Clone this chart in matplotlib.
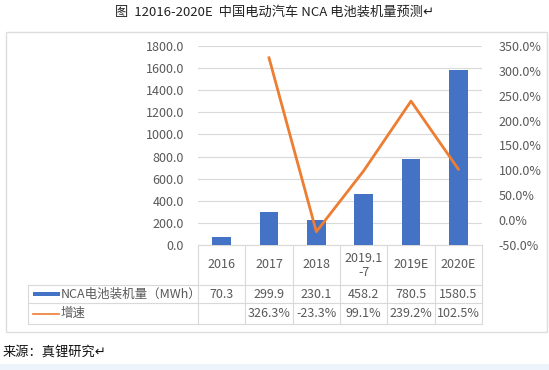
import numpy as np
import matplotlib
matplotlib.use("Agg")
import matplotlib.pyplot as plt
import matplotlib.transforms as mtransforms
from matplotlib.patches import Rectangle
from matplotlib.lines import Line2D

plt.rcParams['font.family'] = ['Noto Sans CJK SC', 'DejaVu Sans']

# data
categories = ['2016', '2017', '2018', '2019.1\n-7', '2019E', '2020E']
capacity = [70.3, 299.9, 230.1, 458.2, 780.5, 1580.5]
growth = [np.nan, 326.3, -23.3, 99.1, 239.2, 102.5]
capacity_labels = ['70.3', '299.9', '230.1', '458.2', '780.5', '1580.5']
growth_labels = ['', '326.3%', '-23.3%', '99.1%', '239.2%', '102.5%']
series_names = ['NCA电池装机量（MWh）', '增速']

W, H = 549, 370
BLUE = '#4472C4'
ORANGE = '#ED7D31'
TXT = '#595959'
GRID = '#D9D9D9'

def fx(px):
    return px / W

def fy(py):
    return 1 - py / H

fig = plt.figure(figsize=(W / 100, H / 100), dpi=100)
fig.patch.set_facecolor('white')

# page background pieces
fig.patches.append(Rectangle((0, 0), 1, fy(364), transform=fig.transFigure,
                             facecolor='#EEF4FB', edgecolor='none', zorder=-10))
fig.patches.append(Rectangle((fx(6), fy(332)), fx(547) - fx(6), fy(32) - fy(332),
                             transform=fig.transFigure, facecolor='white',
                             edgecolor='#DDDDDD', linewidth=1.0, zorder=-10))

ax = fig.add_axes([fx(198), fy(245), fx(482) - fx(198), fy(46) - fy(245)])
ax.set_zorder(2)
ax.set_facecolor('none')
x = np.arange(len(categories))

ax.bar(x, capacity, width=0.4, color=BLUE, zorder=3)
ax.set_xlim(-0.5, len(categories) - 0.5)
ax.set_ylim(0, 1800)
ax.set_yticks(np.arange(0, 1801, 200))
ax.set_yticklabels([f'{v:.1f}' for v in np.arange(0, 1801, 200)])
ax.yaxis.grid(True, color=GRID, linewidth=0.8, zorder=0)
ax.set_xticks([])
for s in ['top', 'right', 'left']:
    ax.spines[s].set_visible(False)
ax.spines['bottom'].set_color(GRID)
ax.tick_params(axis='y', length=0, pad=10, labelsize=9, labelcolor=TXT)

ax2 = ax.twinx()
ax2.set_zorder(3)
ax2.plot(x, growth, color=ORANGE, linewidth=2.0, zorder=4)
ax2.set_ylim(-50, 350)
ax2.set_yticks(np.arange(-50, 351, 50))
ax2.set_yticklabels([f'{v:.1f}%' for v in np.arange(-50, 351, 50)])
for s in ['top', 'right', 'left', 'bottom']:
    ax2.spines[s].set_visible(False)
ax2.tick_params(axis='y', length=0, pad=12, labelsize=9, labelcolor=TXT)

# data table under the plot
tr = mtransforms.blended_transform_factory(ax.transData, fig.transFigure)
y_head_top, y_r1, y_r2, y_bot = 245, 285, 303, 324
edges = np.arange(len(categories) + 1) - 0.5
for e in edges:
    fig.add_artist(Line2D([e, e], [fy(y_head_top), fy(y_bot)], transform=tr,
                          color=GRID, linewidth=0.8))
for yy in [y_r1, y_r2, y_bot]:
    fig.add_artist(Line2D([fx(28), fx(198)], [fy(yy), fy(yy)], transform=fig.transFigure,
                          color=GRID, linewidth=0.8))
    fig.add_artist(Line2D([edges[0], edges[-1]], [fy(yy), fy(yy)], transform=tr,
                          color=GRID, linewidth=0.8))
fig.add_artist(Line2D([fx(28), fx(28)], [fy(y_r1), fy(y_bot)], transform=fig.transFigure,
                      color=GRID, linewidth=0.8))

for i, cat in enumerate(categories):
    fig.text(x[i], fy((y_head_top + y_r1) / 2), cat, transform=tr, ha='center', va='center',
             fontsize=9, color=TXT, linespacing=1.1)
    fig.text(x[i], fy((y_r1 + y_r2) / 2), capacity_labels[i], transform=tr, ha='center',
             va='center', fontsize=9, color=TXT)
    fig.text(x[i], fy((y_r2 + y_bot) / 2), growth_labels[i], transform=tr, ha='center',
             va='center', fontsize=9, color=TXT)

fig.patches.append(Rectangle((fx(33), fy(296)), fx(60) - fx(33), 4 / H,
                             transform=fig.transFigure, facecolor=BLUE, edgecolor='none'))
fig.add_artist(Line2D([fx(33), fx(59)], [fy(313.5), fy(313.5)], transform=fig.transFigure,
                      color=ORANGE, linewidth=1.2))
fig.text(fx(61), fy((y_r1 + y_r2) / 2), series_names[0], ha='left', va='center',
         fontsize=9, color=TXT)
fig.text(fx(61), fy((y_r2 + y_bot) / 2), series_names[1], ha='left', va='center',
         fontsize=9, color=TXT)

fig.text(fx(275), fy(12), '图  12016-2020E  中国电动汽车 NCA 电池装机量预测↵', ha='center',
         va='center', fontsize=9.5, color='#222222')
fig.text(fx(3), fy(352), '来源：真锂研究↵', ha='left', va='center', fontsize=9.5,
         color='#111111')

fig.savefig('out.png', dpi=100)
